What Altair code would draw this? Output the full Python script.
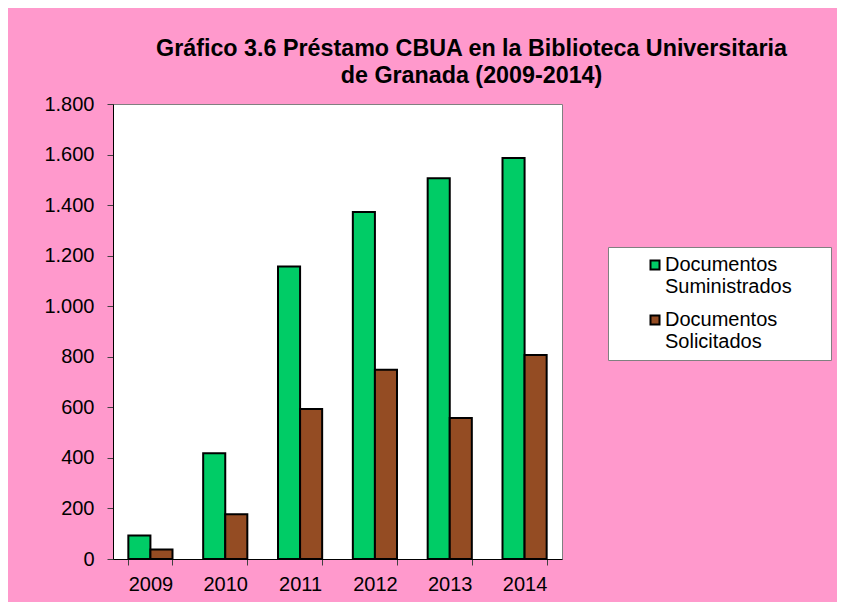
import altair as alt
import pandas as pd

years = ["2009", "2010", "2011", "2012", "2013", "2014"]
suministrados = [93, 418, 1157, 1373, 1506, 1586]
solicitados = [38, 177, 593, 749, 558, 807]
series = ["Documentos Suministrados", "Documentos Solicitados"]
colors = ["#00CC66", "#944C23"]
title_lines = ["Gráfico 3.6 Préstamo CBUA en la Biblioteca Universitaria",
               "de Granada (2009-2014)"]
y_ticks = [0, 200, 400, 600, 800, 1000, 1200, 1400, 1600, 1800]

rows = []
for i, yr in enumerate(years):
    rows.append({"year": yr, "serie": series[0], "value": suministrados[i]})
    rows.append({"year": yr, "serie": series[1], "value": solicitados[i]})
df = pd.DataFrame(rows)

FONT = "Liberation Sans"

chart = alt.Chart(df).mark_bar(stroke="black", strokeWidth=2).encode(
    x=alt.X("year:N", sort=years,
            scale=alt.Scale(paddingInner=0.41, paddingOuter=0.205),
            axis=alt.Axis(title=None, labelAngle=0, tickBand="extent",
                          labelPadding=9, tickSize=6)),
    xOffset=alt.XOffset("serie:N", sort=series,
                        scale=alt.Scale(paddingInner=0, paddingOuter=0)),
    y=alt.Y("value:Q", scale=alt.Scale(domain=[0, 1800], nice=False),
            axis=alt.Axis(title=None, values=y_ticks, tickSize=6, labelPadding=13,
                          labelExpr="replace(format(datum.value, ','), ',', '.')")),
    color=alt.Color("serie:N", sort=series,
                    scale=alt.Scale(domain=series, range=colors),
                    legend=alt.Legend(
                        title=".", titleOrient="right", titleColor="white",
                        titleFontSize=10, titlePadding=28,
                        orient="none", legendX=495, legendY=143,
                        padding=8, fillColor="white", strokeColor="#808080",
                        labelFont=FONT, labelFontSize=20, labelColor="black",
                        symbolType="square", symbolSize=81, symbolStrokeWidth=2,
                        symbolStrokeColor="black", symbolOpacity=1,
                        symbolOffset=29, labelOffset=0, rowPadding=13,
                        labelExpr="split(datum.label, ' ')")),
).properties(
    width=449, height=455,
    title=alt.TitleParams(text=title_lines, font=FONT, fontSize=23.3, fontWeight="bold",
                          color="black", anchor="middle", frame="group", dx=134, dy=-2,
                          lineHeight=26.5),
    background="#FF99CC",
    padding={"left": 105, "top": 96, "right": 275, "bottom": 43},
    autosize=alt.AutoSizeParams(type="none"),
).configure_view(
    fill="white", stroke="#808080", strokeWidth=1
).configure_axis(
    grid=False, domainColor="black", domainWidth=1, tickColor="#404040",
    labelFont=FONT, labelFontSize=20, labelColor="black"
)

chart.save("out.html", embed_options={"renderer": "svg", "actions": False})
